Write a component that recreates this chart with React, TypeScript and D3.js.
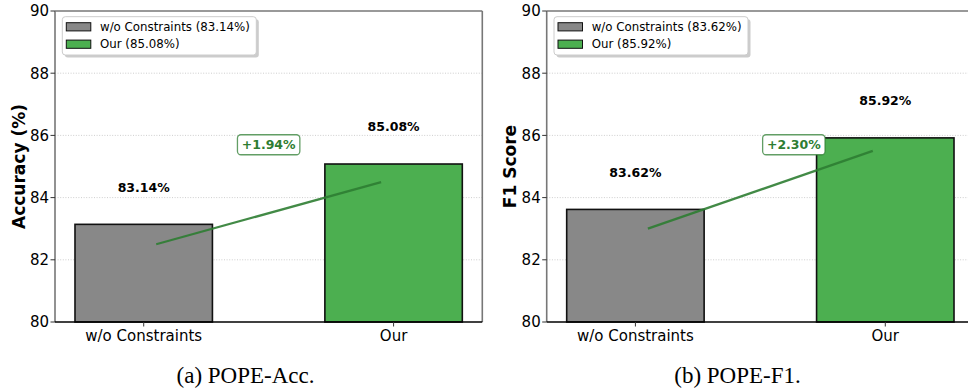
import React from "react";
import * as d3 from "d3";

const categories = ["w/o Constraints", "Our"];
const accValues = [83.14, 85.08];
const f1Values = [83.62, 85.92];
const yTicks = [80, 82, 84, 86, 88, 90];
const gridTicks = [82, 84, 86, 88];
const trendX = [0.05, 0.95];
const accTrend = [82.5, 84.5];
const f1Trend = [83.0, 85.5];
const accGain = "+1.94%";
const f1Gain = "+2.30%";
const accGainPos = [0.5, 85.7];
const f1GainPos = [0.634, 85.7];
const labelOffset = 1.2;
const barColors = ["#888888", "#4CAF50"];

const W = 968;
const H = 392;
const FONT = "DejaVu Sans, sans-serif";

type PanelProps = {
  left: number;
  values: number[];
  trend: number[];
  gain: string;
  gainPos: number[];
  yLabel: string;
  caption: string;
  captionX: number;
};

function Panel({ left, values, trend, gain, gainPos, yLabel, caption, captionX }: PanelProps) {
  const width = 427.3;
  const top = 11;
  const bottom = 322;
  const x = d3.scaleLinear().domain([-0.355, 1.355]).range([left, left + width]);
  const y = d3.scaleLinear().domain([80, 90]).range([bottom, top]);
  const barW = x(0.55) - x(0);
  const line = d3
    .line<number>()
    .x((_, i) => x(trendX[i]))
    .y((d) => y(d));
  const gx = x(gainPos[0]);
  const gy = y(gainPos[1]);
  const gainW = 62.4;
  const gainH = 20;
  const legendX = left + 7.3;
  const legendY = 16.7;
  return (
    <g>
      {gridTicks.map((t) => (
        <line
          key={"g" + t}
          x1={left}
          x2={left + width}
          y1={y(t)}
          y2={y(t)}
          stroke="#c8c8c8"
          strokeWidth={0.9}
          strokeDasharray="1,1.6"
        />
      ))}
      {values.map((v, i) => (
        <rect
          key={"b" + i}
          x={x(i) - barW / 2}
          y={y(v)}
          width={barW}
          height={y(80) - y(v)}
          fill={barColors[i]}
          stroke="#111"
          strokeWidth={1.6}
        />
      ))}
      {values.map((v, i) => (
        <text
          key={"v" + i}
          x={x(i)}
          y={y(v + labelOffset)}
          dy="0.36em"
          textAnchor="middle"
          fontFamily={FONT}
          fontWeight="bold"
          fontSize={12.5}
          fill="#000"
        >
          {v.toFixed(2)}%
        </text>
      ))}
      <path d={line(trend) || ""} fill="none" stroke="#2E7D32" strokeWidth={2.3} strokeOpacity={0.9} />
      <rect
        x={gx - gainW / 2}
        y={gy - gainH / 2}
        width={gainW}
        height={gainH}
        rx={3.5}
        fill="#fff"
        stroke="#2E7D32"
        strokeOpacity={0.75}
        strokeWidth={1.3}
      />
      <text
        x={gx}
        y={gy}
        dy="0.36em"
        textAnchor="middle"
        fontFamily={FONT}
        fontWeight="bold"
        fontSize={12.5}
        fill="#2E7D32"
      >
        {gain}
      </text>
      <line x1={left} x2={left + width} y1={top} y2={top} stroke="#777" strokeWidth={1.6} />
      <line x1={left} x2={left} y1={top} y2={bottom} stroke="#777" strokeWidth={1.6} />
      <line x1={left + width} x2={left + width} y1={top} y2={bottom} stroke="#777" strokeWidth={1.6} />
      <line x1={left} x2={left + width} y1={bottom} y2={bottom} stroke="#000" strokeWidth={1.4} />
      {yTicks.map((t) => (
        <g key={"y" + t}>
          <line x1={left - 4.5} x2={left} y1={y(t)} y2={y(t)} stroke="#333" strokeWidth={1} />
          <text
            x={left - 6}
            y={y(t)}
            dy="0.36em"
            textAnchor="end"
            fontFamily={FONT}
            fontSize={15}
            fill="#000"
          >
            {t}
          </text>
        </g>
      ))}
      {categories.map((c, i) => (
        <g key={"x" + i}>
          <line x1={x(i)} x2={x(i)} y1={bottom} y2={bottom + 4.5} stroke="#333" strokeWidth={1} />
          <text
            x={x(i)}
            y={340.5}
            textAnchor="middle"
            fontFamily={FONT}
            fontSize={15}
            fill="#000"
          >
            {c}
          </text>
        </g>
      ))}
      <text
        transform={`translate(${left - 36.5},${(top + bottom) / 2}) rotate(-90)`}
        dy="0.36em"
        textAnchor="middle"
        fontFamily={FONT}
        fontWeight="bold"
        fontSize={17}
        fill="#000"
      >
        {yLabel}
      </text>
      <rect x={legendX + 2.5} y={legendY + 2.5} width={194} height={38.3} rx={3} fill="#999" fillOpacity={0.5} />
      <rect
        x={legendX}
        y={legendY}
        width={194}
        height={38.3}
        rx={3}
        fill="#fff"
        stroke="#cccccc"
        strokeWidth={1}
      />
      {categories.map((c, i) => (
        <g key={"l" + i}>
          <rect
            x={legendX + 4}
            y={legendY + 6 + i * 17.4}
            width={24.5}
            height={8.2}
            fill={barColors[i]}
            stroke="#111"
            strokeWidth={1}
          />
          <text
            x={legendX + 37.7}
            y={legendY + 10.1 + i * 17.4}
            dy="0.36em"
            fontFamily={FONT}
            fontSize={11.8}
            fill="#000"
          >
            {`${c} (${values[i].toFixed(2)}%)`}
          </text>
        </g>
      ))}
      <text
        x={captionX}
        y={383}
        textAnchor="middle"
        fontFamily="Liberation Serif, Times New Roman, serif"
        fontSize={23}
        fill="#000"
      >
        {caption}
      </text>
    </g>
  );
}

export default function App() {
  return (
    <svg
      width={W}
      height={H}
      viewBox={`0 0 ${W} ${H}`}
      style={{ position: "absolute", left: 0, top: 0, background: "#fff" }}
    >
      <rect x={0} y={0} width={W} height={H} fill="#fff" />
      <Panel
        left={55}
        values={accValues}
        trend={accTrend}
        gain={accGain}
        gainPos={accGainPos}
        yLabel="Accuracy (%)"
        caption="(a) POPE-Acc."
        captionX={245.5}
      />
      <Panel
        left={546.7}
        values={f1Values}
        trend={f1Trend}
        gain={f1Gain}
        gainPos={f1GainPos}
        yLabel="F1 Score"
        caption="(b) POPE-F1."
        captionX={737.5}
      />
    </svg>
  );
}
